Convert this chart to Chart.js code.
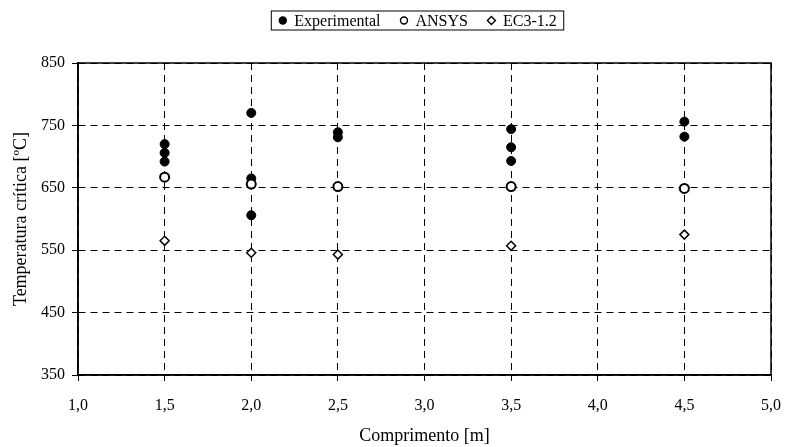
<!DOCTYPE html>
<html>
<head>
<meta charset="utf-8">
<script src="https://cdn.jsdelivr.net/npm/chart.js@4"></script>
<style>
  html, body { margin: 0; padding: 0; background: #fff; }
  #wrap { width: 787px; height: 447px; }
</style>
</head>
<body>
<div id="wrap"><canvas id="c" width="787" height="447"></canvas></div>
<script>
// comprimento [m] for each test point
const expLength = [1.5, 1.5, 1.5, 2.0, 2.0, 2.0, 2.5, 2.5, 3.5, 3.5, 3.5, 4.5, 4.5];
const expTemp   = [720, 706, 692, 770, 665, 606, 739, 731, 744, 715, 693, 756, 732];

const lengths   = [1.5, 2.0, 2.5, 3.5, 4.5];
const ansysTemp = [667, 656, 652, 652, 649];
const ec3Temp   = [565, 546, 543, 557, 575];

const FONT = "'Liberation Serif', 'Times New Roman', serif";

const toPoints = (xs, ys) => xs.map((x, i) => ({ x, y: ys[i] }));

// boxed legend on one line above the plot, plus the closed plot frame
const framePlugin = {
  id: 'frame',
  afterDraw(chart) {
    const { ctx, chartArea: a } = chart;
    ctx.save();
    ctx.strokeStyle = '#000';
    ctx.lineWidth = 1.5;
    ctx.strokeRect(a.left, a.top, a.right - a.left, a.bottom - a.top);

    ctx.font = `16px ${FONT}`;
    ctx.textBaseline = 'middle';
    ctx.fillStyle = '#000';
    const items = chart.data.datasets.map(ds => ({ ds, w: ctx.measureText(ds.label).width }));
    const markGap = 15, itemGap = 20;
    const total = items.reduce((s, it) => s + markGap + it.w, 0) + itemGap * (items.length - 1);
    const cy = 20.5;
    let x = 418 - total / 2;
    ctx.lineWidth = 1;
    ctx.strokeRect(x - 8, 11, total + 15, 19);
    items.forEach(({ ds, w }) => {
      const mx = x + 3.5;
      ctx.beginPath();
      if (ds.pointStyle === 'rectRot') {
        ctx.moveTo(mx, cy - 4); ctx.lineTo(mx + 4, cy);
        ctx.lineTo(mx, cy + 4); ctx.lineTo(mx - 4, cy); ctx.closePath();
      } else {
        ctx.arc(mx, cy, 3.5, 0, Math.PI * 2);
      }
      ctx.fillStyle = ds.backgroundColor;
      ctx.fill();
      ctx.lineWidth = 1.4;
      ctx.strokeStyle = '#000';
      ctx.stroke();
      ctx.fillStyle = '#000';
      ctx.fillText(ds.label, x + markGap, cy + 1);
      x += markGap + w + itemGap;
    });
    ctx.restore();
  }
};

new Chart(document.getElementById('c'), {
  type: 'scatter',
  data: {
    datasets: [
      {
        label: 'Experimental',
        data: toPoints(expLength, expTemp),
        pointStyle: 'circle',
        pointRadius: 4.5,
        backgroundColor: '#000',
        borderColor: '#000',
        borderWidth: 1,
        order: 3,
      },
      {
        label: 'ANSYS',
        data: toPoints(lengths, ansysTemp),
        pointStyle: 'circle',
        pointRadius: 4.5,
        backgroundColor: '#fff',
        borderColor: '#000',
        borderWidth: 2,
        order: 2,
      },
      {
        label: 'EC3-1.2',
        data: toPoints(lengths, ec3Temp),
        pointStyle: 'rectRot',
        pointRadius: 4.5,
        backgroundColor: '#fff',
        borderColor: '#000',
        borderWidth: 1.5,
        order: 1,
      },
    ],
  },
  options: {
    responsive: false,
    animation: false,
    layout: { padding: { left: 6, right: 16, top: 63, bottom: 0 } },
    plugins: {
      legend: { display: false },
      tooltip: { enabled: false },
    },
    scales: {
      x: {
        type: 'linear',
        min: 1,
        max: 5,
        ticks: {
          stepSize: 0.5,
          color: '#000',
          padding: 15,
          font: { family: FONT, size: 16 },
          callback: v => v.toFixed(1).replace('.', ','),
        },
        grid: { color: '#000', lineWidth: 1, tickLength: 6, tickColor: '#000' },
        border: { color: '#000', width: 1.5, dash: [7, 5] },
        title: {
          display: true, text: 'Comprimento [m]', color: '#000',
          padding: { top: 4, bottom: 0 },
          font: { family: FONT, size: 18 },
        },
        afterFit: s => { s.height = 72; s.paddingLeft = 0; s.paddingRight = 0; },
      },
      y: {
        min: 350,
        max: 850,
        ticks: {
          stepSize: 100,
          color: '#000',
          padding: 7,
          font: { family: FONT, size: 16 },
        },
        grid: { color: '#000', lineWidth: 1, tickLength: 6, tickColor: '#000' },
        border: { color: '#000', width: 1.5, dash: [7, 5] },
        title: {
          display: true, text: 'Temperatura crítica [ºC]', color: '#000',
          font: { family: FONT, size: 18 },
        },
        afterFit: s => { s.width = 72; s.paddingTop = 0; s.paddingBottom = 0; },
      },
    },
  },
  plugins: [framePlugin],
});
</script>
</body>
</html>
